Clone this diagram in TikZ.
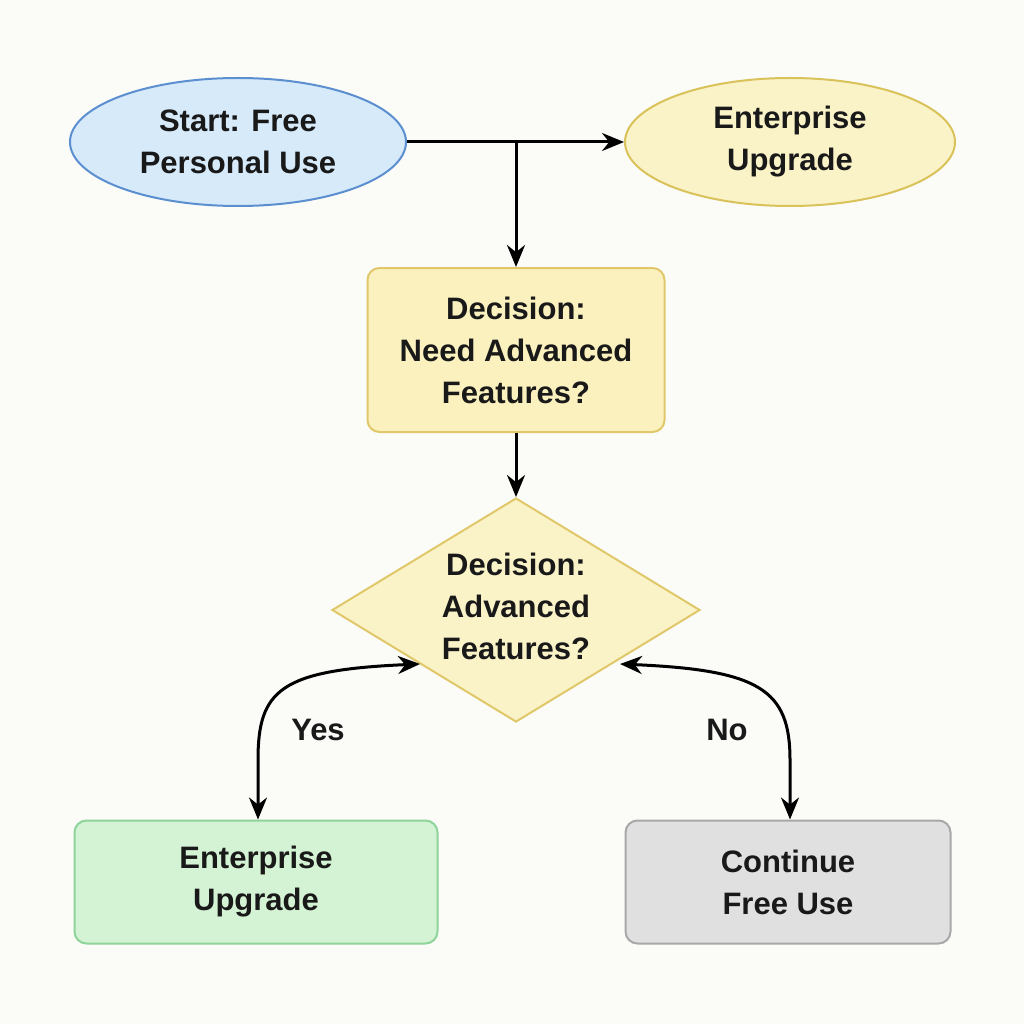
\documentclass[tikz,border=0pt]{standalone}
\usepackage{fontspec}
\setmainfont{Liberation Sans}
\usetikzlibrary{shapes.geometric,arrows.meta}
\definecolor{bg}{HTML}{FBFBF8}
\begin{document}
\begin{tikzpicture}[x=1pt,y=-1pt,
  txt/.style={font=\fontsize{31}{42}\selectfont\bfseries, align=center, text=black!90},
  ell/.style={ellipse, draw, line width=2pt, minimum width=336pt, minimum height=128pt, txt},
  box/.style={rectangle, rounded corners=12pt, draw, line width=2pt, txt},
  arr/.style={line width=3pt, -{Stealth[length=22pt,width=18pt]}}]
\fill[bg] (0,0) rectangle (1024,1024);
\useasboundingbox (0,0) rectangle (1024,1024);
\node[ell, fill={rgb,255:red,214;green,234;blue,250}, draw={rgb,255:red,91;green,143;blue,208}] (start) at (238,142) {Start: Free\\Personal Use};
\node[ell, minimum width=330pt, fill={rgb,255:red,251;green,243;blue,200}, draw={rgb,255:red,217;green,194;blue,90}] (ent1) at (790,142) {Enterprise\\Upgrade};
\node[box, minimum width=297pt, minimum height=164pt, fill={rgb,255:red,251;green,241;blue,191}, draw={rgb,255:red,224;green,200;blue,106}] (dec) at (516,350) {Decision:\\Need Advanced\\Features?};
\node[diamond, draw={rgb,255:red,224;green,200;blue,106}, line width=2pt, fill={rgb,255:red,251;green,243;blue,200}, minimum width=368pt, minimum height=224pt, inner sep=0pt] (dia) at (516,610) {};
\node[txt] at (516,606) {Decision:\\Advanced\\Features?};
\node[box, minimum width=363pt, minimum height=123pt, fill={rgb,255:red,212;green,242;blue,212}, draw={rgb,255:red,143;green,212;blue,154}] (ent2) at (256,882) {Enterprise\\Upgrade};
\node[box, minimum width=325pt, minimum height=123pt, fill={rgb,255:red,224;green,224;blue,224}, draw={rgb,255:red,168;green,168;blue,168}] (cont) at (788,882) {Continue\\Free Use};
\coordinate (j) at (516,142);
\draw[arr] (start.east) -- (ent1.west);
\draw[arr] (j) -- (dec.north);
\draw[arr] (dec.south) -- (dia.north);
\coordinate (L) at (420,664);
\coordinate (R) at (620,664);
\draw[line width=3pt, {Stealth[length=22pt,width=18pt]}-{Stealth[length=22pt,width=18pt]}] (L) .. controls (280,670) and (258,690) .. (258,760) -- (ent2.north -| 258,0);
\draw[line width=3pt, {Stealth[length=22pt,width=18pt]}-{Stealth[length=22pt,width=18pt]}] (R) .. controls (760,670) and (790,690) .. (790,760) -- (cont.north -| 790,0);
\node[txt] (yes) at (318,730) {Yes};
\node[txt] (no) at (727,730) {No};
\end{tikzpicture}
\end{document}
